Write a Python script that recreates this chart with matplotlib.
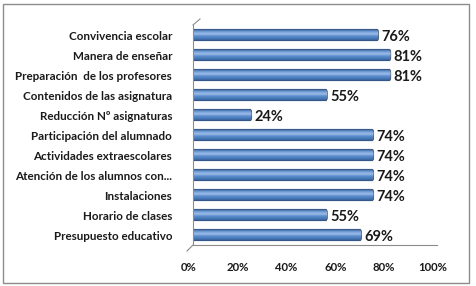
import numpy as np
import matplotlib.pyplot as plt
import matplotlib.transforms as mtransforms
from matplotlib.patches import Rectangle, FancyBboxPatch
from matplotlib.lines import Line2D
from matplotlib.colors import LinearSegmentedColormap

# data (top to bottom as in the picture)
categories = [
    "Convivencia escolar",
    "Manera de enseñar",
    "Preparación  de los profesores",
    "Contenidos de las asignatura",
    "Reducción Nº asignaturas",
    "Participación del alumnado",
    "Actividades extraescolares",
    "Atención de los alumnos con...",
    "Instalaciones",
    "Horario de clases",
    "Presupuesto educativo",
]
values = [76, 81, 81, 55, 24, 74, 74, 74, 74, 55, 69]
xticks = [0, 20, 40, 60, 80, 100]
xtick_labels = ["0%", "20%", "40%", "60%", "80%", "100%"]

plt.rcParams['font.family'] = ['Lato', 'DejaVu Sans']

W, H = 477, 286
fig = plt.figure(figsize=(W / 100, H / 100), dpi=100)
fig.patch.set_facecolor('white')

# outer chart border
fig.patches.append(Rectangle((3 / W, 3 / H), 466 / W, 279 / H, transform=fig.transFigure,
                             fill=False, edgecolor='#8c8c8c', linewidth=1.0))

ax = fig.add_axes([193 / W, 1 - 245 / H, 244 / W, 220 / H])
n = len(categories)
ypos = np.arange(n)
ax.set_xlim(0, 100)
ax.set_ylim(n - 0.5, -0.5)

# cylinder-like shading for the bars
cyl = LinearSegmentedColormap.from_list(
    'cyl', ['#2f5488', '#6f9bd6', '#9dbde8', '#5a8ccb', '#4677b8', '#2f5387'])
grad = np.linspace(0, 1, 64).reshape(-1, 1)
bar_h = 0.56
for y, v in zip(ypos, values):
    patch = FancyBboxPatch((0, y - bar_h / 2), v, bar_h,
                           boxstyle="round,pad=0,rounding_size=0.6",
                           mutation_aspect=0.25,
                           facecolor='#4a7ebb', edgecolor='#2b4b78', linewidth=0.7, zorder=2)
    ax.add_patch(patch)
    im = ax.imshow(grad, cmap=cyl, aspect='auto', extent=(0, v, y + bar_h / 2, y - bar_h / 2),
                   zorder=2.5, interpolation='bilinear')
    im.set_clip_path(patch)
    ax.text(v + 1.2, y + 0.12, f"{v}%", va='center', ha='left', fontsize=10.5,
            fontweight='bold', color='#1a1a1a')

ax.set_yticks(ypos)
ax.set_yticklabels(categories, fontsize=8.4, fontweight='bold', color='#1a1a1a')
ax.set_xticks(xticks)
ax.set_xticklabels(xtick_labels, fontsize=8.2, fontweight='bold', color='#1a1a1a')
ax.tick_params(axis='y', length=0, pad=15)
ax.tick_params(axis='x', length=0, pad=12)
shift_x = mtransforms.ScaledTranslation(-4 / 100, 0, fig.dpi_scale_trans)
for lbl in ax.get_xticklabels():
    lbl.set_transform(lbl.get_transform() + shift_x)
shift_y = mtransforms.ScaledTranslation(0, -1 / 100, fig.dpi_scale_trans)
for lbl in ax.get_yticklabels():
    lbl.set_transform(lbl.get_transform() + shift_y)

for s in ['top', 'right']:
    ax.spines[s].set_visible(False)
for s in ['left', 'bottom']:
    ax.spines[s].set_color('#8c8c8c')
    ax.spines[s].set_linewidth(0.8)
ax.set_facecolor('none')

# small 3D edges of the wall and floor
fig.lines.append(Line2D([193 / W, 200 / W], [1 - 25 / H, 1 - 19 / H], transform=fig.transFigure,
                        color='#8c8c8c', linewidth=0.8))
fig.lines.append(Line2D([187 / W, 193 / W], [1 - 251 / H, 1 - 245 / H], transform=fig.transFigure,
                        color='#8c8c8c', linewidth=0.8))

fig.savefig('out.png', dpi=100)
